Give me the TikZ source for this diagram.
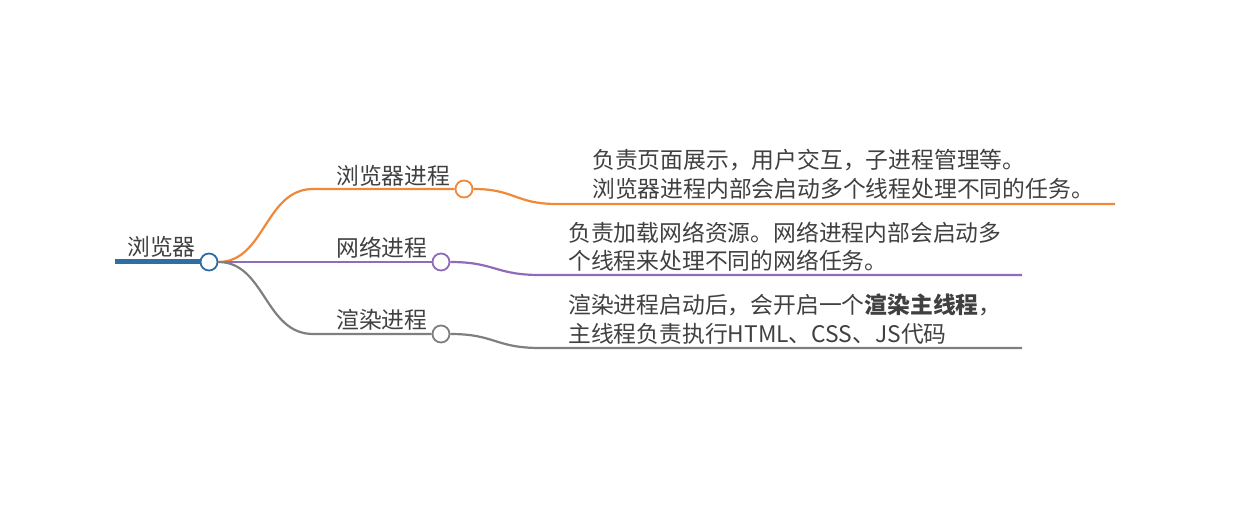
\documentclass[tikz,border=0pt]{standalone}
\usepackage{fontspec}
\setmainfont{Noto Sans CJK SC}
\begin{document}
\begin{tikzpicture}[x=1pt,y=-1pt,
  txt/.style={anchor=west,inner sep=0pt,text=black!75,font=\fontsize{22.8}{29}\selectfont},
  dot/.style={circle,draw,fill=white,line width=1.8pt,minimum size=17pt,inner sep=0pt},
  br/.style={line width=2.2pt}]
\definecolor{cblue}{HTML}{2F6EA3}
\definecolor{corange}{HTML}{F0883A}
\definecolor{cpurple}{HTML}{8F6BB8}
\definecolor{cgray}{HTML}{7F7F7F}
\useasboundingbox (0,0) rectangle (1260,510);
% root
\coordinate (rs) at (115,262);
\node[dot,draw=cblue] (r) at (209,262) {};
\draw[cblue,line width=5pt] (rs) -- (r.west);
\node[txt] (rl) at (127,247) {浏览器};
% children circles
\node[dot,draw=corange] (c1) at (464,189) {};
\node[dot,draw=cpurple] (c2) at (441,262) {};
\node[dot,draw=cgray] (c3) at (441,334) {};
% child labels
\node[txt] (l1) at (336,176) {浏览器进程};
\node[txt] (l2) at (336,248) {网络进程};
\node[txt] (l3) at (336,320) {渲染进程};
% corners
\coordinate (k1) at (313,189);
\coordinate (k3) at (313,334);
\draw[corange,br] (r.east) .. controls (265,262) and (265,189) .. (k1) -- (c1.west);
\draw[cpurple,br] (r.east) -- (c2.west);
\draw[cgray,br] (r.east) .. controls (265,262) and (265,334) .. (k3) -- (c3.west);
% descriptions
\coordinate (d1a) at (557,204); \coordinate (d1b) at (1115,204);
\coordinate (d2a) at (540,275); \coordinate (d2b) at (1022,275);
\coordinate (d3a) at (540,348); \coordinate (d3b) at (1022,348);
\draw[corange,br] (c1.east) .. controls (515,189) and (515,204) .. (d1a) -- (d1b);
\draw[cpurple,br] (c2.east) .. controls (495,262) and (495,275) .. (d2a) -- (d2b);
\draw[cgray,br] (c3.east) .. controls (495,334) and (495,348) .. (d3a) -- (d3b);
\node[txt] (t1a) at (592,160) {负责页面展示，用户交互，子进程管理等。};
\node[txt] (t1b) at (592,189) {浏览器进程内部会启动多个线程处理不同的任务。};
\node[txt] (t2a) at (568,233) {负责加载网络资源。网络进程内部会启动多};
\node[txt] (t2b) at (568,261) {个线程来处理不同的网络任务。};
\node[txt] (t3a) at (568,305) {渲染进程启动后，会开启一个\textbf{渲染主线程}，};
\node[txt] (t3b) at (568,334) {主线程负责执行HTML、CSS、JS代码};
\end{tikzpicture}
\end{document}
